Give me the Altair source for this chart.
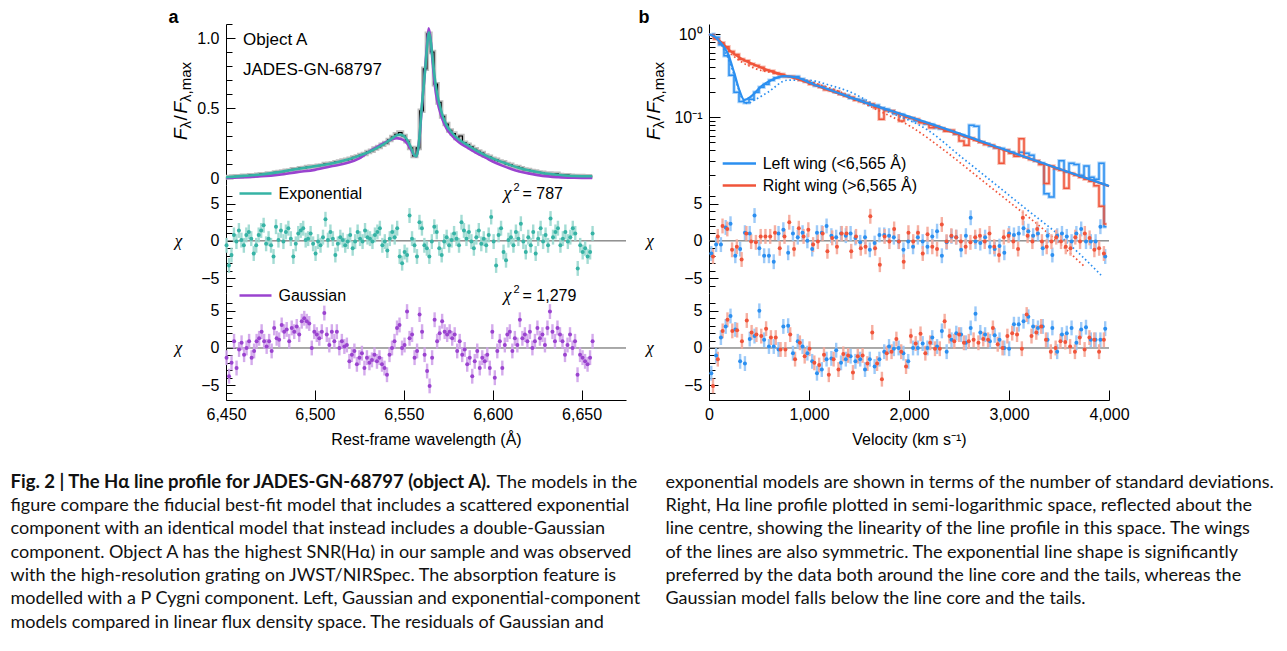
import altair as alt
import numpy as np
import pandas as pd

FONT = "Liberation Sans"
CAP_FONT = "Lato"

TEAL, TEAL_LT = "#36b3a5", "#9ad8cf"
PURPLE, PURPLE_LT = "#9a43cf", "#cfa2ea"
BLUE, BLUE_LT = "#2b8ff0", "#92c4f7"
RED, RED_LT = "#f0543a", "#f5a697"

# ---------------- panel a: spectrum around H-alpha (2 A pixels from 6450 A)
obs_start, obs_step = 6450, 2
obs_flux = [0.008, 0.004, 0.010, 0.012, 0.010, 0.016, 0.015, 0.020, 0.018, 0.024,
            0.027, 0.026, 0.032, 0.033, 0.040, 0.042, 0.046, 0.052, 0.054, 0.062,
            0.063, 0.070, 0.071, 0.078, 0.082, 0.083, 0.088, 0.090, 0.100, 0.102,
            0.105, 0.113, 0.117, 0.125, 0.130, 0.137, 0.147, 0.154, 0.165, 0.172,
            0.186, 0.195, 0.210, 0.222, 0.238, 0.250, 0.272, 0.292, 0.312, 0.325,
            0.300, 0.262, 0.215, 0.158, 0.215, 0.480, 0.780, 1.030, 0.900, 0.670,
            0.540, 0.440, 0.385, 0.340, 0.318, 0.285, 0.300, 0.252, 0.238, 0.222,
            0.205, 0.190, 0.178, 0.160, 0.152, 0.138, 0.130, 0.118, 0.112, 0.100,
            0.094, 0.082, 0.078, 0.070, 0.060, 0.057, 0.050, 0.046, 0.040, 0.037,
            0.031, 0.032, 0.024, 0.030, 0.022, 0.020, 0.020, 0.016, 0.015, 0.012,
            0.014, 0.011, 0.012, 0.013]

model_wave = [6450, 6460, 6470, 6480, 6490, 6500, 6510, 6518, 6525, 6530, 6535, 6539,
              6543, 6546, 6548, 6550, 6552, 6554, 6556, 6557, 6558, 6559, 6560, 6561,
              6562, 6563, 6564, 6565, 6566, 6567, 6568, 6570, 6572, 6574, 6577, 6581,
              6586, 6591, 6596, 6600, 6605, 6610, 6615, 6620, 6628, 6637, 6646, 6656]
model_exp = [0.005, 0.015, 0.025, 0.043, 0.064, 0.084, 0.106, 0.130, 0.160, 0.184, 0.215, 0.244,
             0.280, 0.305, 0.310, 0.300, 0.270, 0.220, 0.160, 0.155, 0.200, 0.320, 0.490, 0.630,
             0.770, 0.920, 1.040, 0.990, 0.880, 0.760, 0.660, 0.530, 0.440, 0.380, 0.325, 0.275,
             0.235, 0.195, 0.162, 0.140, 0.115, 0.092, 0.072, 0.055, 0.036, 0.023, 0.014, 0.012]
model_gauss = [0.000, 0.005, 0.012, 0.024, 0.042, 0.058, 0.085, 0.107, 0.140, 0.185, 0.222, 0.250,
               0.275, 0.285, 0.280, 0.270, 0.245, 0.205, 0.160, 0.155, 0.200, 0.310, 0.480, 0.630,
               0.780, 0.940, 1.070, 1.000, 0.860, 0.720, 0.610, 0.490, 0.410, 0.355, 0.305, 0.255,
               0.215, 0.178, 0.145, 0.118, 0.090, 0.066, 0.047, 0.033, 0.015, 0.006, 0.002, 0.000]

chi_wave_range = (6450.3, 6656.2)
chi_exp = [-0.6, -3.3, -1.9, 0.8, -0.1, 1.4, 0.1, -0.6, 0.8, 1.2, 0.3, -1.7, -0.6, 0.8, 1.4,
           2.1, -0.4, 0.3, -0.6, -2.1, 1.9, 0.1, 1.4, -0.1, 1.2, 1.7, 0.3, -2.1, -0.4, 1.0,
           1.4, 1.7, 0.1, 0.3, 1.0, -0.4, -1.7, -0.1, -0.6, 0.5, 2.9, 0.1, 1.2, 0.3, -1.9,
           -0.4, 0.5, 0.1, -0.6, -0.1, 0.8, -1.0, -0.1, 1.2, 0.3, -0.1, 1.4, 0.5, 0.3, -0.1,
           0.8, 1.2, 1.7, -0.6, -0.1, -1.3, 0.3, 1.2, 0.5, 1.7, -2.1, -3.0, -1.5, -1.9, 3.4,
           0.3, -0.6, -2.1, 2.5, 1.7, -0.6, -1.0, -2.1, -0.1, 1.9, 1.2, -1.0, -1.9, -0.1, 0.5,
           -0.6, 0.1, 1.0, 0.3, -0.6, 2.5, 1.4, 0.3, 1.2, -0.1, -1.0, 0.5, 1.4, -0.4, 0.3,
           -0.6, 0.8, 3.2, -0.1, -3.3, 0.8, 1.7, -1.5, -2.6, 0.1, 0.5, -0.6, 1.2, 0.3, 2.3,
           -0.1, -1.5, 0.5, -0.6, 1.2, -1.7, 0.3, 1.7, -0.1, 0.8, -0.6, 3.0, 0.5, 1.2, 1.7,
           -0.6, 0.3, 1.2, -0.1, 0.5, 1.7, 1.0, -3.7, -0.6, -1.5, -1.0, -2.1, -1.5, 1.0]
chi_gauss = [-1.3, -3.8, -2.0, 0.9, -2.7, -0.2, 0.7, -0.9, 0.0, 0.9, -1.3, -0.4, 0.9, 1.3, 2.2,
             0.9, 0.2, 0.9, -0.4, 2.7, 1.3, 1.1, 3.1, 2.2, 2.5, 0.9, 2.7, 2.2, 2.9, 1.8,
             3.6, 4.0, 3.6, 3.3, 0.0, 2.2, 1.8, 1.3, 2.2, 4.7, 1.8, 0.4, 2.2, 0.9, 2.2,
             0.0, 0.9, 0.2, 0.4, -1.8, -0.9, -0.4, -2.2, -1.3, -0.7, -2.7, -1.3, -2.0, -1.6, -0.9,
             -1.8, -1.3, -2.2, -2.7, -3.6, -0.9, 0.0, 0.9, 2.7, 3.1, 0.0, 0.4, 4.9, 1.3,
             1.8, -1.3, -0.4, 4.5, 2.2, -0.9, -3.1, -5.1, -1.3, 3.8, 0.9, 2.0, 3.6, 2.2, 1.8,
             2.2, 1.3, 1.8, -0.4, 0.9, -0.9, -0.2, -2.2, -1.3, -3.8, -1.8, -0.4, -2.7, -1.3, -1.8,
             -0.9, -2.7, 2.2, -4.0, -0.4, 0.9, -2.7, 0.4, 1.8, 2.2, -0.4, 1.3, 0.4, 3.8, 1.3,
             1.8, 0.9, 2.2, 0.0, 0.9, 2.7, 1.3, 1.8, 0.4, 2.7, 4.9, 2.2, 0.9, 2.7, 1.8,
             0.9, -0.9, 0.4, 1.8, 0.0, 0.9, -3.6, -0.9, -1.3, -1.8, -2.2, -1.3, 0.9]

# ---------------- panel b: wings folded about line centre (50 km/s bins)
bin_width = 50
left_wing = [1.0, 0.92, 0.75, 0.55, 0.32, 0.2, 0.155, 0.15, 0.165, 0.2, 0.23, 0.25, 0.28, 0.3, 0.31, 0.31,
             0.31, 0.31, 0.29, 0.27, 0.26, 0.24, 0.235, 0.22, 0.215, 0.2, 0.19, 0.185, 0.17, 0.165,
             0.16, 0.15, 0.14, 0.14, 0.13, 0.125, 0.12, 0.11, 0.108, 0.1, 0.097, 0.09, 0.088, 0.083,
             0.082, 0.075, 0.073, 0.07, 0.068, 0.063, 0.061, 0.058, 0.08, 0.078, 0.05, 0.048, 0.045,
             0.043, 0.042, 0.04, 0.038, 0.036, 0.038, 0.037, 0.035, 0.03, 0.028, 0.012, 0.011, 0.024,
             0.03, 0.022, 0.028, 0.027, 0.02, 0.026, 0.019, 0.018, 0.028, 0.0048]
right_wing = [0.98, 0.88, 0.79, 0.71, 0.62, 0.57, 0.5, 0.48, 0.44, 0.42, 0.4, 0.37, 0.36, 0.34, 0.33, 0.31,
              0.31, 0.3, 0.28, 0.27, 0.25, 0.245, 0.23, 0.215, 0.21, 0.205, 0.19, 0.18, 0.175, 0.16,
              0.155, 0.15, 0.145, 0.13, 0.095, 0.12, 0.12, 0.112, 0.09, 0.1, 0.098, 0.095, 0.086, 0.085,
              0.075, 0.078, 0.074, 0.068, 0.07, 0.063, 0.052, 0.046, 0.056, 0.053, 0.05, 0.047, 0.046,
              0.043, 0.028, 0.04, 0.037, 0.034, 0.055, 0.033, 0.031, 0.03, 0.027, 0.016, 0.026, 0.024,
              0.023, 0.014, 0.021, 0.02, 0.019, 0.018, 0.017, 0.015, 0.0085, 0.0052]

exp_left_v = [0, 60, 120, 187, 253, 303, 353, 420, 520, 620, 753, 887, 1000, 1250, 1500, 2000, 2500, 3000, 3500, 4000]
exp_left = [1.0, 0.93, 0.78, 0.59, 0.34, 0.213, 0.162, 0.178, 0.234, 0.28, 0.314, 0.30, 0.263, 0.205,
            0.16, 0.102, 0.064, 0.039, 0.024, 0.0149]
exp_right_v = [0, 60, 120, 220, 320, 453, 587, 720, 920, 1253, 1587, 2000, 2500, 3000, 3500, 4000]
exp_right = [1.0, 0.92, 0.81, 0.62, 0.51, 0.43, 0.37, 0.33, 0.28, 0.20, 0.147, 0.10, 0.062, 0.0385, 0.0238, 0.0148]
gau_left_v = [0, 60, 120, 190, 260, 320, 387, 450, 587, 787, 987, 1200, 1420, 1720, 2187, 2520, 2853, 3187, 3520, 3920]
gau_left = [1.0, 0.92, 0.75, 0.52, 0.3, 0.18, 0.147, 0.16, 0.2, 0.28, 0.28, 0.245, 0.2, 0.128, 0.0703,
            0.0335, 0.016, 0.0076, 0.00364, 0.00126]
gau_right_v = [0, 60, 120, 220, 320, 453, 653, 800, 1000, 1300, 1687, 2020, 2353, 2687, 3020, 3353, 3753]
gau_right = [1.0, 0.9, 0.77, 0.58, 0.47, 0.39, 0.34, 0.31, 0.27, 0.205, 0.122, 0.077, 0.040, 0.0192,
             0.0092, 0.0044, 0.0016]

left_v_range, right_v_range = (23, 3962), (40, 3949)
chi_exp_left = [-1.7, -0.5, -0.5, 1.8, 2.3, -2.0, -1.1, 1.1, 1.0, 3.4, -1.0, -2.0, -2.0, -2.8, 1.0, 1.5,
                -1.6, 1.0, 0.5, 1.1, 0.0, -1.1, 1.1, 1.1, 2.0, 0.7, 0.5, 1.0, 0.7, 1.0, 0.4, -0.2, 0.5,
                -1.2, -0.3, 0.8, 0.8, 0.7, 0.5, -0.1, -1.2, -0.1, -0.8, 0.5, -0.1, -0.8, 0.6, 1.3, -2.0,
                -0.2, 0.6, 0.5, -1.2, 0.7, 3.1, -0.1, -0.3, 0.5, -0.8, -1.1, -0.7, -1.6, 1.0, 0.8, 1.0,
                1.7, 1.3, 0.7, 1.0, -1.0, 0.7, -1.9, 0.7, 1.0, 0.6, -0.1, 1.0, 1.6, -0.1, -0.1, -0.1, 1.9, -2.1]
chi_exp_right = [-2.1, 0.6, 2.0, 1.6, -1.2, -0.8, -2.5, 1.0, -0.1, -0.2, 0.6, 0.6, 0.6, 1.1, -1.0, 0.6,
                 2.5, -1.1, 1.7, 0.6, 1.5, -0.5, -0.1, 1.0, -1.4, 0.4, -0.8, 1.0, 1.0, -1.4, 0.6, -1.0,
                 -0.8, 3.3, -1.0, -3.2, 0.6, -0.1, 1.6, -0.1, -2.8, 1.1, -0.1, 1.1, -1.7, 0.9, -0.8, -1.1,
                 2.2, -0.1, 0.7, 0.5, -0.1, -0.8, -0.2, 0.5, 0.7, -0.1, 1.0, -0.8, -1.9, 0.5, 0.7, -0.1,
                 -1.1, 3.1, 0.7, -0.1, 1.6, -0.1, -0.8, -0.1, 0.5, -0.1, -0.8, -1.0, 0.5, -0.1, 1.0, 0.4,
                 -1.2, -1.0, -1.7]
chi_gau_left = [-3.4, -1.0, 1.4, 2.9, 4.3, 2.5, -1.8, -2.1, 1.2, 1.6, 5.0, 1.1, 0.2, 0.2, -0.2, 2.9, 3.0,
                -0.7, 0.9, 0.2, -0.7, -1.8, -3.4, -2.9, -1.5, -1.4, -0.3, -2.0, -1.5, -1.1, -1.8, -1.5,
                -2.9, -1.5, -2.5, -1.5, -0.5, 0.2, -0.1, 0.0, -0.7, -1.8, 0.0, 0.0, 0.6, 0.0, 1.4, 0.2,
                2.3, -0.5, 1.1, 2.0, 1.8, 0.7, 2.7, 4.6, 2.1, 1.8, 0.9, 1.7, 1.1, 0.0, -0.1, 3.2, 3.2,
                3.6, 4.2, 2.9, 2.7, 2.9, 1.1, 2.7, -0.5, 1.8, 2.0, 2.7, 0.7, 2.5, 2.8, 1.1, 1.1, 1.1, 2.6]
chi_gau_right = [-5.1, -1.5, 2.3, 3.8, 2.3, 2.4, 0.9, 3.7, 2.1, 1.8, 1.6, 2.6, 1.4, 1.4, -0.2, -0.2, 1.8,
                 -1.5, 0.7, -1.1, -0.1, -2.0, -2.3, -0.9, -3.6, -1.5, -2.9, -0.8, -1.0, -3.3, -1.1, -1.0,
                 -2.1, 2.1, -2.1, -4.2, -0.7, -0.5, 1.2, -0.5, -2.5, 1.6, 0.6, 1.9, -0.7, 0.7, -0.1, -0.1,
                 3.6, 1.6, 0.9, 1.8, 0.7, 0.9, 1.1, 0.7, 1.2, 1.1, 2.7, 0.5, 0.0, 1.6, 2.0, 1.8, -0.1,
                 4.5, 1.6, 2.1, 2.9, 1.1, -0.5, 0.0, 0.9, 0.8, 0.2, -0.5, 1.4, -0.2, 1.4, 1.1, -0.5, 1.1]

caption_bold = "Fig. 2 | The Hα line profile for JADES-GN-68797 (object A)."
caption_left = [
    "The models in the",
    "figure compare the fiducial best-fit model that includes a scattered exponential",
    "component with an identical model that instead includes a double-Gaussian",
    "component. Object A has the highest SNR(Hα) in our sample and was observed",
    "with the high-resolution grating on JWST/NIRSpec. The absorption feature is",
    "modelled with a P Cygni component. Left, Gaussian and exponential-component",
    "models compared in linear flux density space. The residuals of Gaussian and",
]
caption_right = [
    "exponential models are shown in terms of the number of standard deviations.",
    "Right, Hα line profile plotted in semi-logarithmic space, reflected about the",
    "line centre, showing the linearity of the line profile in this space. The wings",
    "of the lines are also symmetric. The exponential line shape is significantly",
    "preferred by the data both around the line core and the tails, whereas the",
    "Gaussian model falls below the line core and the tails.",
]

# ---------------- layout
W = 400
H_TOP, H_R1, H_R2 = 161, 108, 107
XS_A = alt.Scale(domain=[6450, 6675], nice=False, zero=False)
XS_B = alt.Scale(domain=[0, 4000], nice=False, zero=False)
YS_TOP_A = alt.Scale(domain=[-0.05, 1.1], nice=False, zero=False)
YS_TOP_B = alt.Scale(type="log", domain=[0.0153, 1.33], nice=False)
YS_R1 = alt.Scale(domain=[-7, 7.5], nice=False, zero=False)
YS_R2 = alt.Scale(domain=[-7, 7.4], nice=False, zero=False)

CHI_MAJOR = [-5, 0, 5]
CHI_MINOR = [-6, -4, -3, -2, -1, 1, 2, 3, 4, 6]
CHI_LABEL = "replace(datum.label, '-', '\u2212')"


def txt(t, x, y, size=16, **kw):
    opts = dict(align="left", baseline="alphabetic", fontSize=size, font=FONT, color="black")
    opts.update(kw)
    return alt.Chart(pd.DataFrame({"t": [t]})).mark_text(**opts).encode(
        x=alt.value(x), y=alt.value(y), text="t:N")


def swatch(color, x1, x2, y):
    return alt.Chart(pd.DataFrame({"t": [0]})).mark_rule(color=color, strokeWidth=2.5).encode(
        x=alt.value(x1), x2=alt.value(x2), y=alt.value(y))


def chi2(x, y, value):
    return [txt("χ", x, y, 18, font="Liberation Serif", fontStyle="italic", baseline="middle"),
            txt("2", x + 10, y - 6, 11, baseline="middle"),
            txt("= " + value, x + 19, y, 16, baseline="middle")]


def flux_title(x0, y0):
    parts = [("F", 19, "italic", 0, 11.6), ("λ", 15, "normal", 4, 7.8), ("/", 19, "normal", 0, 7.0),
             ("F", 19, "italic", 0, 11.6), ("λ,max", 15, "normal", 4, 40)]
    out, y = [], y0
    for t, size, style, dx, w in parts:
        out.append(txt(t, x0 + dx, y, size, fontStyle=style, angle=270))
        y -= w
    return out


def y_main(values, expr):
    return alt.Axis(values=values, labelExpr=expr, orient="left", ticks=False, tickSize=0,
                    domain=True, grid=False, title=None, labelPadding=7)


def y_ticks(values, size):
    return alt.Axis(values=values, orient="right", offset=-W, labels=False, domain=False,
                    grid=False, title=None, tickSize=size)


def ghost(df, xf, yf, xs, ys, xaxis=None, yaxis=None):
    return alt.Chart(df).mark_point(opacity=0).encode(
        x=alt.X(xf, scale=xs, axis=xaxis), y=alt.Y(yf, scale=ys, axis=yaxis))


def x_axes(values, title, height):
    main = alt.Axis(values=values, labelExpr="format(datum.value, ',')", orient="bottom",
                    ticks=False, tickSize=0, domain=True, grid=False, title=title,
                    labelPadding=6, titlePadding=9, labelFlush=False)
    ticks = alt.Axis(values=values, orient="top", offset=-height, labels=False, domain=False,
                     grid=False, title=None, tickSize=10)
    return main, ticks


def resid(series, ys, height, xs, extra, xaxis=None):
    zero = alt.Chart(pd.DataFrame({"zero": [0]})).mark_rule(color="#555555", strokeWidth=1).encode(
        y=alt.Y("zero:Q", scale=ys, axis=None))
    layers = [zero]
    for df, c, lt in series:
        layers.append(alt.Chart(df).transform_calculate(lo="datum.chi - 1", hi="datum.chi + 1")
                      .mark_rule(color=lt, strokeWidth=2.4, opacity=0.9)
                      .encode(x=alt.X("x:Q", scale=xs, axis=None),
                              y=alt.Y("lo:Q", scale=ys, axis=None), y2="hi:Q"))
    for df, c, lt in series:
        layers.append(alt.Chart(df).mark_circle(color=c, size=16, opacity=1).encode(
            x=alt.X("x:Q", scale=xs, axis=None), y=alt.Y("chi:Q", scale=ys, axis=None)))
    d0 = series[0][0]
    layers += [ghost(d0, "x:Q", "chi:Q", xs, ys, yaxis=y_main(CHI_MAJOR, CHI_LABEL)),
               ghost(d0, "x:Q", "chi:Q", xs, ys, yaxis=y_ticks(CHI_MAJOR, 9)),
               ghost(d0, "x:Q", "chi:Q", xs, ys, yaxis=y_ticks(CHI_MINOR, 6))]
    if xaxis is not None:
        layers += [ghost(d0, "x:Q", "chi:Q", xs, ys, xaxis=xaxis[0]),
                   ghost(d0, "x:Q", "chi:Q", xs, ys, xaxis=xaxis[1])]
    layers += extra
    return alt.layer(*layers).resolve_axis(x="independent", y="independent").properties(
        width=W, height=height)


# ---------------- panel a
df_obs = pd.DataFrame({"x": obs_start + obs_step * np.arange(len(obs_flux)), "y": obs_flux})
df_mod = pd.DataFrame({"x": model_wave, "exp": model_exp, "gauss": model_gauss})
XA = alt.X("x:Q", scale=XS_A, axis=None)

top_a_layers = [
    alt.Chart(df_obs).mark_line(interpolate="step", color="#bdbdbd", strokeWidth=4.5).encode(
        x=XA, y=alt.Y("y:Q", scale=YS_TOP_A, axis=None)),
    alt.Chart(df_obs).mark_line(interpolate="step", color="black", strokeWidth=1.2).encode(
        x=XA, y=alt.Y("y:Q", scale=YS_TOP_A, axis=None)),
    alt.Chart(df_mod).mark_line(color=PURPLE, strokeWidth=2.6, interpolate="monotone").encode(
        x=XA, y=alt.Y("gauss:Q", scale=YS_TOP_A, axis=None)),
    alt.Chart(df_mod).mark_line(color=TEAL, strokeWidth=2.6, interpolate="monotone").encode(
        x=XA, y=alt.Y("exp:Q", scale=YS_TOP_A, axis=None)),
    ghost(df_mod, "x:Q", "exp:Q", XS_A, YS_TOP_A, yaxis=y_main(
        [0, 0.5, 1.0], "datum.value == 0 ? '0' : format(datum.value, '.1f')")),
    ghost(df_mod, "x:Q", "exp:Q", XS_A, YS_TOP_A, yaxis=y_ticks([0, 0.5, 1.0], 9)),
    ghost(df_mod, "x:Q", "exp:Q", XS_A, YS_TOP_A,
          yaxis=y_ticks([0.1, 0.2, 0.3, 0.4, 0.6, 0.7, 0.8, 0.9, 1.1], 6)),
    txt("Object A", 17, 21, 17),
    txt("JADES-GN-68797", 17, 51, 17),
    txt("a", -57.5, -1.5, 18, fontWeight="bold"),
] + flux_title(-39.5, 116)
top_a = alt.layer(*top_a_layers).resolve_axis(x="independent", y="independent").properties(
    width=W, height=H_TOP)

chi_x = np.linspace(chi_wave_range[0], chi_wave_range[1], len(chi_exp))
chi_xg = np.linspace(chi_wave_range[0], chi_wave_range[1], len(chi_gauss))
df_ce = pd.DataFrame({"x": chi_x, "chi": chi_exp})
df_cg = pd.DataFrame({"x": chi_xg, "chi": chi_gauss})

r1a = resid([(df_ce, TEAL, TEAL_LT)], YS_R1, H_R1, XS_A,
            [swatch(TEAL, 13.5, 45.5, 8.5), txt("Exponential", 52.5, 8.5, 16, baseline="middle"),
             txt("χ", -47.5, 56, 17, font="Liberation Serif", fontStyle="italic", align="center",
                 baseline="middle")] + chi2(277.5, 8.5, "787"))
r2a = resid([(df_cg, PURPLE, PURPLE_LT)], YS_R2, H_R2, XS_A,
            [swatch(PURPLE, 13.5, 45.5, 2.5), txt("Gaussian", 52.5, 3, 16, baseline="middle"),
             txt("χ", -47.5, 55, 17, font="Liberation Serif", fontStyle="italic", align="center",
                 baseline="middle")] + chi2(277.5, 3, "1,279"),
            xaxis=x_axes([6450, 6500, 6550, 6600, 6650], "Rest-frame wavelength (Å)", H_R2))

# ---------------- panel b
vel = bin_width / 2 + bin_width * np.arange(len(left_wing))
df_lw = pd.DataFrame({"x": vel, "y": left_wing})
df_rw = pd.DataFrame({"x": vel, "y": right_wing})
XB = alt.X("x:Q", scale=XS_B, axis=None)


def bline(df, color, width, dash=None, interp="linear", opacity=1.0):
    kw = dict(color=color, strokeWidth=width, interpolate=interp, opacity=opacity)
    if dash:
        kw["strokeDash"] = dash
    return alt.Chart(df).mark_line(**kw).encode(x=XB, y=alt.Y("y:Q", scale=YS_TOP_B, axis=None))


LOG_MINOR = [0.02, 0.03, 0.04, 0.05, 0.06, 0.07, 0.08, 0.09, 0.2, 0.3, 0.4, 0.5, 0.6, 0.7, 0.8, 0.9]
top_b_layers = [
    bline(df_lw, BLUE_LT, 3.5, interp="step", opacity=0.7),
    bline(df_rw, RED_LT, 3.5, interp="step", opacity=0.7),
    bline(df_lw, BLUE, 1.5, interp="step"),
    bline(df_rw, RED, 1.5, interp="step"),
    bline(pd.DataFrame({"x": gau_left_v, "y": gau_left}), BLUE, 1.7, dash=[1.6, 2.6], interp="monotone"),
    bline(pd.DataFrame({"x": gau_right_v, "y": gau_right}), RED, 1.7, dash=[1.6, 2.6], interp="monotone"),
    bline(pd.DataFrame({"x": exp_right_v, "y": exp_right}), RED, 2.2, interp="monotone"),
    bline(pd.DataFrame({"x": exp_left_v, "y": exp_left}), BLUE, 2.2, interp="monotone"),
    ghost(df_lw, "x:Q", "y:Q", XS_B, YS_TOP_B, yaxis=y_main(
        [0.1, 1], "datum.value >= 1 ? '10\u2070' : '10\u207b\u00b9'")),
    ghost(df_lw, "x:Q", "y:Q", XS_B, YS_TOP_B, yaxis=y_ticks([0.1, 1], 11)),
    ghost(df_lw, "x:Q", "y:Q", XS_B, YS_TOP_B, yaxis=y_ticks(LOG_MINOR, 6)),
    swatch(BLUE, 13.7, 47, 139.5), txt("Left wing (<6,565 Å)", 53.7, 139.5, 16, baseline="middle"),
    swatch(RED, 13.7, 47, 161.5), txt("Right wing (>6,565 Å)", 53.7, 161.5, 16, baseline="middle"),
    txt("b", -70.5, -1.5, 18, fontWeight="bold"),
] + flux_title(-49, 116)
top_b = alt.layer(*top_b_layers).resolve_axis(x="independent", y="independent").properties(
    width=W, height=H_TOP)


def vgrid(rng, vals):
    return np.linspace(rng[0], rng[1], len(vals))


df_bel = pd.DataFrame({"x": vgrid(left_v_range, chi_exp_left), "chi": chi_exp_left})
df_ber = pd.DataFrame({"x": vgrid(right_v_range, chi_exp_right), "chi": chi_exp_right})
df_bgl = pd.DataFrame({"x": vgrid(left_v_range, chi_gau_left), "chi": chi_gau_left})
df_bgr = pd.DataFrame({"x": vgrid(right_v_range, chi_gau_right), "chi": chi_gau_right})

chi_lbl = dict(font="Liberation Serif", fontStyle="italic", align="center", baseline="middle")
r1b = resid([(df_bel, BLUE, BLUE_LT), (df_ber, RED, RED_LT)], YS_R1, H_R1, XS_B,
            [txt("χ", -59, 56, 17, **chi_lbl)])
r2b = resid([(df_bgl, BLUE, BLUE_LT), (df_bgr, RED, RED_LT)], YS_R2, H_R2, XS_B,
            [txt("χ", -59, 55, 17, **chi_lbl)],
            xaxis=x_axes([0, 1000, 2000, 3000, 4000], "Velocity (km s\u207b\u00b9)", H_R2))

# ---------------- caption (two columns of text under the panels)
CAP_X_LEFT, CAP_X_RIGHT, CAP_TAIL_X = -215.5, 439.5, 270.5
YROW = alt.Y("row:Q", scale=alt.Scale(domain=[-3.77, 6.23], reverse=True), axis=None)
cap_style = dict(align="left", baseline="alphabetic", font=CAP_FONT, color="#111111")
df_cl = pd.DataFrame({"row": np.arange(len(caption_left)), "t": caption_left})
df_cr = pd.DataFrame({"row": np.arange(len(caption_right)), "t": caption_right})
df_cb = pd.DataFrame({"row": [0], "t": [caption_bold]})

caption = alt.layer(
    alt.Chart(df_cl).transform_filter("datum.row > 0").mark_text(fontSize=18, **cap_style).encode(
        x=alt.value(CAP_X_LEFT), y=YROW, text="t:N"),
    alt.Chart(df_cl).transform_filter("datum.row == 0").mark_text(fontSize=18, **cap_style).encode(
        x=alt.value(CAP_TAIL_X), y=YROW, text="t:N"),
    alt.Chart(df_cb).mark_text(fontWeight="bold", fontSize=18.5, **cap_style).encode(
        x=alt.value(CAP_X_LEFT), y=YROW, text="t:N"),
    alt.Chart(df_cr).mark_text(fontSize=18, **cap_style).encode(
        x=alt.value(CAP_X_RIGHT), y=YROW, text="t:N"),
).properties(width=10, height=233)

chart = alt.concat(top_a, top_b, r1a, r1b, r2a, r2b, caption, columns=2,
                   spacing={"row": 0, "column": 83}, bounds="flush").properties(
    padding={"left": 2, "top": 0, "right": 0, "bottom": 0}
).configure_view(stroke=None).configure_axis(
    labelFont=FONT, labelFontSize=16, labelColor="black", titleFont=FONT, titleFontSize=16,
    titleFontWeight="normal", titleColor="black", domainColor="black", tickColor="black",
    domainWidth=1, tickWidth=1)

chart.save("out.html", embed_options={"renderer": "svg", "actions": False})
